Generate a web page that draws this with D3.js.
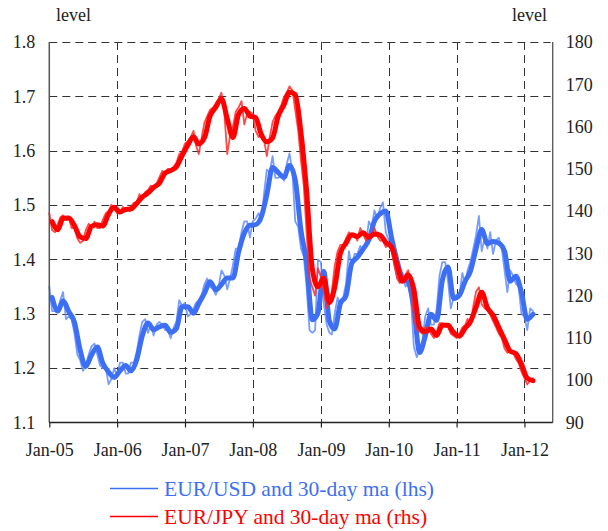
<!DOCTYPE html>
<html>
<head>
<meta charset="utf-8">
<script src="https://cdn.jsdelivr.net/npm/d3@7"></script>
<style>
  body { margin: 0; background: #fff; }
  text { font-family: "Liberation Serif", "DejaVu Serif", serif; }
</style>
</head>
<body>
<svg id="chart" width="608" height="531"></svg>
<script>
// EUR/USD spot, sampled on the 1st and 16th of each month, Jan 2005 – Feb 2012
const usdSpot = [
  1.350,1.305, 1.305,1.305, 1.325,1.340, 1.290,1.295, 1.290,1.265, 1.225,1.215, 1.195,1.205, 1.225,1.240, 1.245,1.225, 1.205,1.200, 1.200,1.170, 1.180,1.200,
  1.185,1.210, 1.210,1.190, 1.190,1.210, 1.210,1.230, 1.260,1.285, 1.290,1.265, 1.280,1.260, 1.280,1.285, 1.280,1.270, 1.270,1.255, 1.275,1.285, 1.325,1.315,
  1.320,1.295, 1.300,1.310, 1.320,1.325, 1.335,1.355, 1.365,1.350, 1.345,1.335, 1.350,1.380, 1.370,1.345, 1.365,1.390, 1.420,1.420, 1.450,1.470, 1.470,1.440,
  1.470,1.475, 1.485,1.470, 1.520,1.565, 1.560,1.590, 1.550,1.550, 1.555,1.545, 1.575,1.595, 1.560,1.470, 1.460,1.420, 1.405,1.350, 1.270,1.265, 1.270,1.400,
  1.395,1.320, 1.280,1.265, 1.262,1.300, 1.330,1.315, 1.330,1.355, 1.415,1.385, 1.410,1.410, 1.425,1.415, 1.430,1.470, 1.460,1.490, 1.475,1.495, 1.505,1.450,
  1.435,1.440, 1.390,1.365, 1.360,1.375, 1.350,1.355, 1.325,1.240, 1.220,1.235, 1.250,1.295, 1.310,1.280, 1.280,1.310, 1.370,1.395, 1.395,1.360, 1.310,1.330,
  1.335,1.335, 1.375,1.355, 1.380,1.395, 1.420,1.445, 1.480,1.415, 1.440,1.420, 1.450,1.410, 1.435,1.440, 1.420,1.380, 1.340,1.380, 1.370,1.355, 1.350,1.300,
  1.295,1.270, 1.310,1.305
];

// EUR/JPY spot, same sampling
const jpySpot = [
  139.5,135.5, 135.0,137.0, 138.5,139.0, 138.0,138.5, 136.0,136.0, 133.5,132.5, 133.0,135.5, 137.0,136.0, 137.5,136.0, 136.0,138.0, 139.5,140.0, 141.5,140.5,
  139.5,139.5, 141.0,140.0, 140.5,141.0, 142.0,142.0, 144.0,143.0, 144.5,145.0, 146.0,145.5, 146.5,148.0, 149.5,149.0, 150.0,149.5, 150.5,151.5, 153.5,154.0,
  156.0,156.5, 157.5,159.0, 155.5,153.5, 157.5,161.0, 162.5,164.0, 164.5,165.5, 166.5,168.0, 163.0,153.5, 158.0,160.0, 163.5,164.5, 166.0,160.5, 163.0,163.5,
  163.0,159.0, 157.5,158.5, 157.0,153.0, 157.5,161.0, 162.5,163.5, 165.0,167.0, 168.0,169.5, 168.5,164.0, 159.0,152.0, 146.0,135.0, 124.0,122.0, 120.0,126.5,
  124.5,121.0, 117.0,118.5, 121.0,127.0, 130.5,132.0, 132.0,133.5, 135.0,134.0, 134.5,133.0, 136.0,134.5, 133.0,134.5, 134.0,136.0, 134.0,133.0, 133.0,131.5,
  132.0,130.5, 127.0,124.0, 123.0,123.5, 125.0,126.0, 122.5,115.0, 112.0,111.5, 111.0,112.5, 112.5,111.0, 110.0,111.5, 113.5,113.5, 113.0,112.5, 111.0,110.5,
  110.0,111.0, 112.5,113.0, 114.5,113.0, 117.5,121.0, 122.0,118.0, 117.0,116.5, 115.5,114.0, 112.5,111.0, 110.0,107.5, 106.5,107.0, 106.5,105.0, 104.0,102.0,
  100.5,99.0, 100.0,100.5
];

// 30-day moving averages, one value per month (mid-month), Jan 2005 – Feb 2012
const usdMA = [
  1.330,1.305,1.324,1.304,1.285,1.233,1.203,1.224,1.239,1.209,1.193,1.183,
  1.195,1.205,1.195,1.215,1.259,1.283,1.271,1.276,1.279,1.266,1.273,1.313,
  1.313,1.301,1.319,1.338,1.359,1.344,1.354,1.366,1.366,1.413,1.448,1.463,
  1.464,1.479,1.519,1.569,1.560,1.551,1.573,1.546,1.453,1.395,1.289,1.301,
  1.378,1.286,1.272,1.319,1.333,1.393,1.404,1.419,1.436,1.470,1.484,1.489,
  1.440,1.396,1.365,1.358,1.311,1.229,1.258,1.299,1.288,1.361,1.386,1.328,
  1.334,1.360,1.378,1.420,1.455,1.429,1.433,1.430,1.415,1.360,1.369,1.339,
  1.290,1.299
];
const jpyMA = [
  137.5,135.6,138.3,138.4,136.6,133.9,133.5,136.4,136.8,136.5,139.3,140.9,
  139.8,140.4,140.5,141.8,143.3,144.3,145.6,146.6,149.0,149.6,150.5,153.1,
  155.6,157.6,155.9,157.4,162.5,164.6,166.6,161.9,157.4,162.9,164.3,162.5,
  162.1,158.1,156.4,157.3,162.4,165.1,168.1,167.6,158.5,144.8,126.3,122.1,
  124.1,118.4,121.9,130.0,132.4,134.4,134.0,134.9,133.8,134.6,134.3,132.6,
  131.5,127.1,123.4,124.9,121.5,112.6,111.5,112.1,110.6,113.0,113.0,111.3,
  110.4,112.3,113.8,117.3,120.8,117.1,115.4,112.5,109.6,106.9,106.3,103.8,
  100.5,99.9
];

const leftTicks = [1.1, 1.2, 1.3, 1.4, 1.5, 1.6, 1.7, 1.8];
const rightTicks = [90, 100, 110, 120, 130, 140, 150, 160, 170, 180];
const yearTicks = [2005, 2006, 2007, 2008, 2009, 2010, 2011, 2012];
const legendLabels = ["EUR/USD and 30-day ma (lhs)", "EUR/JPY and 30-day ma (rhs)"];

// sampling dates
const spotDates = [];
for (let i = 0; i < usdSpot.length; i++) {
  const m = Math.floor(i / 2);
  spotDates.push(new Date(Date.UTC(2005, m, i % 2 === 0 ? 1 : 16)));
}
const maDates = usdMA.map((_, i) => new Date(Date.UTC(2005, i, 16)));

const blue = "#3d6ff5", blueLight = "#5f8dff";
const red = "#ff0000", redLight = "#ff2a2a";

const svg = d3.select("#chart");
const L = 49.3, R = 552.7, T = 42, B = 422.5;

const x = d3.scaleUtc()
  .domain([new Date(Date.UTC(2005, 0, 1)), new Date(Date.UTC(2012, 5, 1))])
  .range([L, R]);
const yL = d3.scaleLinear().domain([1.1, 1.8]).range([B, T]);
const yR = d3.scaleLinear().domain([90, 180]).range([B, T]);
const janDates = yearTicks.map(y => new Date(Date.UTC(y, 0, 1)));

// dashed grid
const grid = svg.append("g").attr("stroke", "#333").attr("stroke-width", 1)
  .attr("stroke-dasharray", "8,5").attr("fill", "none");
grid.selectAll("line.h").data(leftTicks.slice(1)).join("line")
  .attr("x1", L).attr("x2", R - 2)
  .attr("y1", d => Math.round(yL(d)) + 0.5).attr("y2", d => Math.round(yL(d)) + 0.5);
grid.selectAll("line.v").data(janDates.slice(1)).join("line")
  .attr("x1", d => Math.round(x(d)) + 0.5).attr("x2", d => Math.round(x(d)) + 0.5)
  .attr("y1", T).attr("y2", B);

// series: spot as a thin line, moving average as a heavy line
const lineL = (dates) => d3.line().x((d, i) => x(dates[i])).y(d => yL(d));
const lineR = (dates) => d3.line().x((d, i) => x(dates[i])).y(d => yR(d));

const plot = svg.append("g").attr("fill", "none").attr("stroke-linejoin", "round").attr("stroke-linecap", "round");
plot.append("path").datum(usdSpot)
  .attr("d", lineL(spotDates)).attr("stroke", blueLight).attr("stroke-width", 1.8).attr("opacity", 0.85);
plot.append("path").datum(usdMA)
  .attr("d", lineL(maDates).curve(d3.curveMonotoneX)).attr("stroke", blue).attr("stroke-width", 5);
plot.append("path").datum(jpySpot)
  .attr("d", lineR(spotDates)).attr("stroke", redLight).attr("stroke-width", 1.8).attr("opacity", 0.85);
plot.append("path").datum(jpyMA)
  .attr("d", lineR(maDates).curve(d3.curveMonotoneX)).attr("stroke", red).attr("stroke-width", 5);

// axes
const axL = svg.append("g").attr("transform", `translate(${L},0)`)
  .call(d3.axisLeft(yL).tickValues(leftTicks).tickSize(0).tickPadding(14).tickFormat(d3.format(".1f")));
const axR = svg.append("g").attr("transform", `translate(${R},0)`)
  .call(d3.axisRight(yR).tickValues(rightTicks).tickSize(0).tickPadding(13).tickFormat(d3.format("d")));
const axB = svg.append("g").attr("transform", `translate(0,${B})`)
  .call(d3.axisBottom(x).tickValues(janDates).tickSize(5).tickPadding(16).tickFormat(d3.utcFormat("%b-%y")));

[axL, axR, axB].forEach(a => {
  a.attr("font-family", null);
  a.select(".domain").remove();
  a.selectAll("text").attr("font-size", 18).attr("fill", "#222")
    .attr("font-family", '"Liberation Serif", serif');
});
axB.selectAll(".tick line").attr("stroke", "#222").attr("stroke-width", 1.2);

svg.append("line").attr("x1", L).attr("x2", L).attr("y1", T).attr("y2", B)
  .attr("stroke", "#555").attr("stroke-width", 1.5);
svg.append("line").attr("x1", R).attr("x2", R).attr("y1", T).attr("y2", B)
  .attr("stroke", "#555").attr("stroke-width", 1.3);
svg.append("line").attr("x1", L).attr("x2", R).attr("y1", B).attr("y2", B)
  .attr("stroke", "#222").attr("stroke-width", 1.3);

// unit labels
svg.append("text").attr("x", 56).attr("y", 20.5).attr("font-size", 18).attr("fill", "#222").text("level");
svg.append("text").attr("x", 547).attr("y", 20.5).attr("font-size", 18).attr("fill", "#222")
  .attr("text-anchor", "end").text("level");

// legend
const legend = svg.append("g");
const legendColors = [blue, red];
const legendY = [488.5, 516.5];
legendLabels.forEach((lab, i) => {
  legend.append("line").attr("x1", 110).attr("x2", 158)
    .attr("y1", legendY[i]).attr("y2", legendY[i])
    .attr("stroke", legendColors[i]).attr("stroke-width", 1.5);
  legend.append("text").attr("x", 164).attr("y", legendY[i] + 7)
    .attr("font-size", 21.5).attr("fill", legendColors[i]).text(lab);
});
</script>
</body>
</html>
